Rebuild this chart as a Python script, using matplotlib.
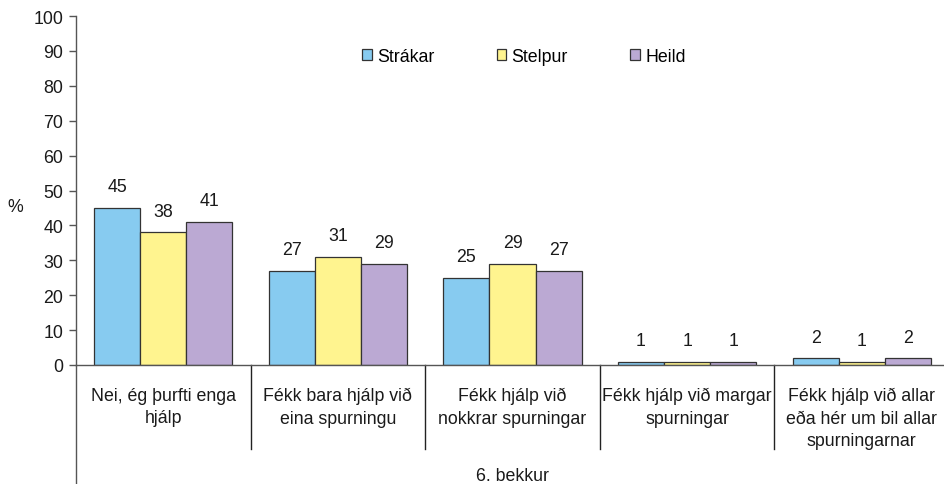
import matplotlib
matplotlib.use("Agg")
import matplotlib.pyplot as plt
import numpy as np
from matplotlib.transforms import blended_transform_factory

plt.rcParams['font.family'] = ['Liberation Sans', 'DejaVu Sans']

categories = ["Nei, ég þurfti enga\nhjálp",
              "Fékk bara hjálp við\neina spurningu",
              "Fékk hjálp við\nnokkrar spurningar",
              "Fékk hjálp við margar\nspurningar",
              "Fékk hjálp við allar\neða hér um bil allar\nspurningarnar"]
series_names = ["Strákar", "Stelpur", "Heild"]
strakar = [45, 27, 25, 1, 2]
stelpur = [38, 31, 29, 1, 1]
heild = [41, 29, 27, 1, 2]
group_label = "6. bekkur"
yticks = list(range(0, 101, 10))

colors = ["#87CBF0", "#FFF48F", "#BBA9D3"]
edge = "#333333"
fs = 12.8
tc = "#1a1a1a"

W, H = 944, 485
fig = plt.figure(figsize=(W/100, H/100), dpi=100)
ax_left, ax_right = 76, 949
ax_top, ax_bottom = 17, 366
ax = fig.add_axes([ax_left/W, (H-ax_bottom)/H, (ax_right-ax_left)/W, (ax_bottom-ax_top)/H])

x = np.arange(len(categories))
bw = 0.264
for i, (vals, name, c) in enumerate(zip([strakar, stelpur, heild], series_names, colors)):
    xs = x + (i-1)*bw
    ax.bar(xs, vals, width=bw, color=c, edgecolor=edge, linewidth=0.9, label=name, zorder=2)
    for xi, v in zip(xs, vals):
        ax.annotate(f"{v}", (xi, v), xytext=(0, 9), textcoords="offset points",
                    ha="center", va="bottom", fontsize=fs, color=tc)

ax.set_xlim(-0.5, len(categories)-0.5)
ax.set_ylim(0, 100)
ax.set_yticks(yticks)
ax.tick_params(axis='y', labelsize=fs, length=5, width=1, color="#555555", pad=4, labelcolor=tc)
ax.set_xticks(x)
ax.set_xticklabels(categories, fontsize=fs, color=tc, linespacing=1.45)
ax.tick_params(axis='x', length=0, pad=15.5)
for s in ["top", "right"]:
    ax.spines[s].set_visible(False)
for s in ["left", "bottom"]:
    ax.spines[s].set_color("#555555")
    ax.spines[s].set_linewidth(1)

ax.set_ylabel("%", rotation=0, fontsize=fs, color=tc, va="center", ha="center")
ax.yaxis.set_label_coords(-0.07, 0.455)

trans = blended_transform_factory(ax.transData, ax.transAxes)
for b in np.arange(0.5, len(categories)-0.5, 1):
    ax.plot([b, b], [0, -0.241], transform=trans, color="#222222", lw=1, clip_on=False)
ax.plot([-0.5, -0.5], [0, -0.36], transform=trans, color="#555555", lw=1, clip_on=False)
ax.text(0.5, -0.316, group_label, transform=ax.transAxes, ha="center", va="center",
        fontsize=fs, color=tc)

leg = ax.legend(loc="center", bbox_to_anchor=(0.513, 0.885), ncol=3, frameon=False,
                fontsize=fs, handlelength=0.55, handleheight=0.55, handletextpad=0.3,
                columnspacing=3.5)

fig.savefig("out.png", dpi=100)
